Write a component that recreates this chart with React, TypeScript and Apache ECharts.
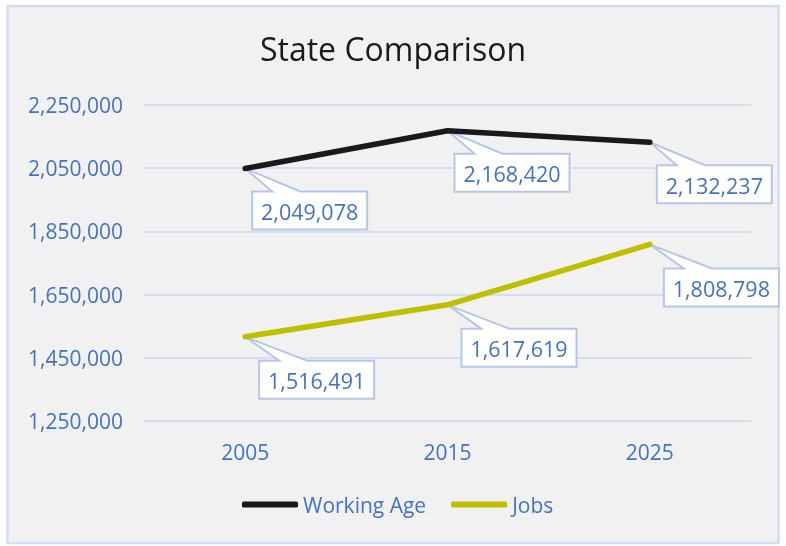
import React, { useEffect, useRef } from "react";
import * as echarts from "echarts";

const years = ["2005", "2015", "2025"];
const workingAge = [2049078, 2168420, 2132237];
const jobs = [1516491, 1617619, 1808798];
const yTicks = [1250000, 1450000, 1650000, 1850000, 2050000, 2250000];
const seriesNames = ["Working Age", "Jobs"];

const FONT = '"Open Sans", "Noto Sans", sans-serif';
const BLUE = "#4472c4";
const GRID = "#d3def2";
const BOX_BORDER = "#b4c7e7";

const fmt = (v: number) => v.toLocaleString("en-US");

function callout(dx: number, dy: number) {
  return (params: any, api: any) => {
    const x = api.value(0);
    const y = api.value(1);
    const p = api.coord([x, y]);
    const w = 115;
    const h = 38;
    const bx = p[0] + dx;
    const by = p[1] + dy;
    return {
      type: "group",
      children: [
        {
          type: "polygon",
          shape: {
            points: [
              [p[0], p[1]],
              [bx + 48, by],
              [bx + w, by],
              [bx + w, by + h],
              [bx, by + h],
              [bx, by],
              [bx + 20, by],
            ],
          },
          style: { fill: "#ffffff", stroke: BOX_BORDER, lineWidth: 2 },
        },
        {
          type: "text",
          x: bx + w / 2,
          y: by + h / 2 + 1,
          style: {
            text: fmt(y),
            align: "center",
            verticalAlign: "middle",
            fill: BLUE,
            font: `21.5px ${FONT}`,
          },
        },
      ],
    };
  };
}

export default function App() {
  const ref = useRef<HTMLDivElement>(null);
  useEffect(() => {
    if (!ref.current) return;
    const chart = echarts.init(ref.current, null, { renderer: "svg" });
    const option: any = {
      animation: false,
      textStyle: { fontFamily: FONT },
      graphic: [
        {
          type: "rect",
          z: -10,
          shape: { x: 7.5, y: 6, width: 771, height: 537 },
          style: { fill: "#f1f1f1", stroke: "#d2def3", lineWidth: 2.5 },
        },
      ],
      title: {
        text: "State Comparison",
        left: "center",
        top: 27,
        textStyle: { fontFamily: FONT, fontSize: 32, fontWeight: "normal", color: "#1a1a1a" },
      },
      legend: {
        bottom: 26,
        left: 237,
        itemWidth: 56,
        itemHeight: 6,
        itemGap: 25,
        icon: "roundRect",
        data: seriesNames,
        textStyle: { fontFamily: FONT, fontSize: 21, color: BLUE },
      },
      grid: { left: 144, right: 35, top: 105, bottom: 125 },
      xAxis: {
        type: "category",
        data: years,
        boundaryGap: true,
        axisLine: { lineStyle: { color: GRID, width: 2 } },
        axisTick: { show: false },
        axisLabel: { color: BLUE, fontFamily: FONT, fontSize: 21, margin: 20 },
      },
      yAxis: {
        type: "value",
        min: yTicks[0],
        max: yTicks[yTicks.length - 1],
        interval: yTicks[1] - yTicks[0],
        axisLine: { show: false },
        axisTick: { show: false },
        splitLine: { lineStyle: { color: GRID, width: 2 } },
        axisLabel: {
          color: BLUE,
          fontFamily: FONT,
          fontSize: 21,
          margin: 21,
          formatter: (v: number) => fmt(v),
        },
      },
      series: [
        {
          name: seriesNames[0],
          type: "line",
          data: workingAge,
          z: 4,
          showSymbol: false,
          symbol: "none",
          color: "#1a1a1a",
          lineStyle: { color: "#1a1a1a", width: 5.5, cap: "round", join: "round" },
        },
        {
          name: seriesNames[1],
          type: "line",
          data: jobs,
          z: 4,
          showSymbol: false,
          symbol: "none",
          color: "#bfbf00",
          lineStyle: { color: "#bfbf00", width: 5.5, cap: "round", join: "round" },
        },
        {
          type: "custom",
          z: 3,
          data: workingAge.map((v, i) => [i, v]),
          renderItem: callout(7, 23),
        },
        {
          type: "custom",
          z: 3,
          data: jobs.map((v, i) => [i, v]),
          renderItem: callout(14, 24),
        },
      ],
    };
    chart.setOption(option);
    return () => chart.dispose();
  }, []);
  return (
    <div
      ref={ref}
      style={{ position: "fixed", left: 0, top: 0, width: 786, height: 546 }}
    />
  );
}
